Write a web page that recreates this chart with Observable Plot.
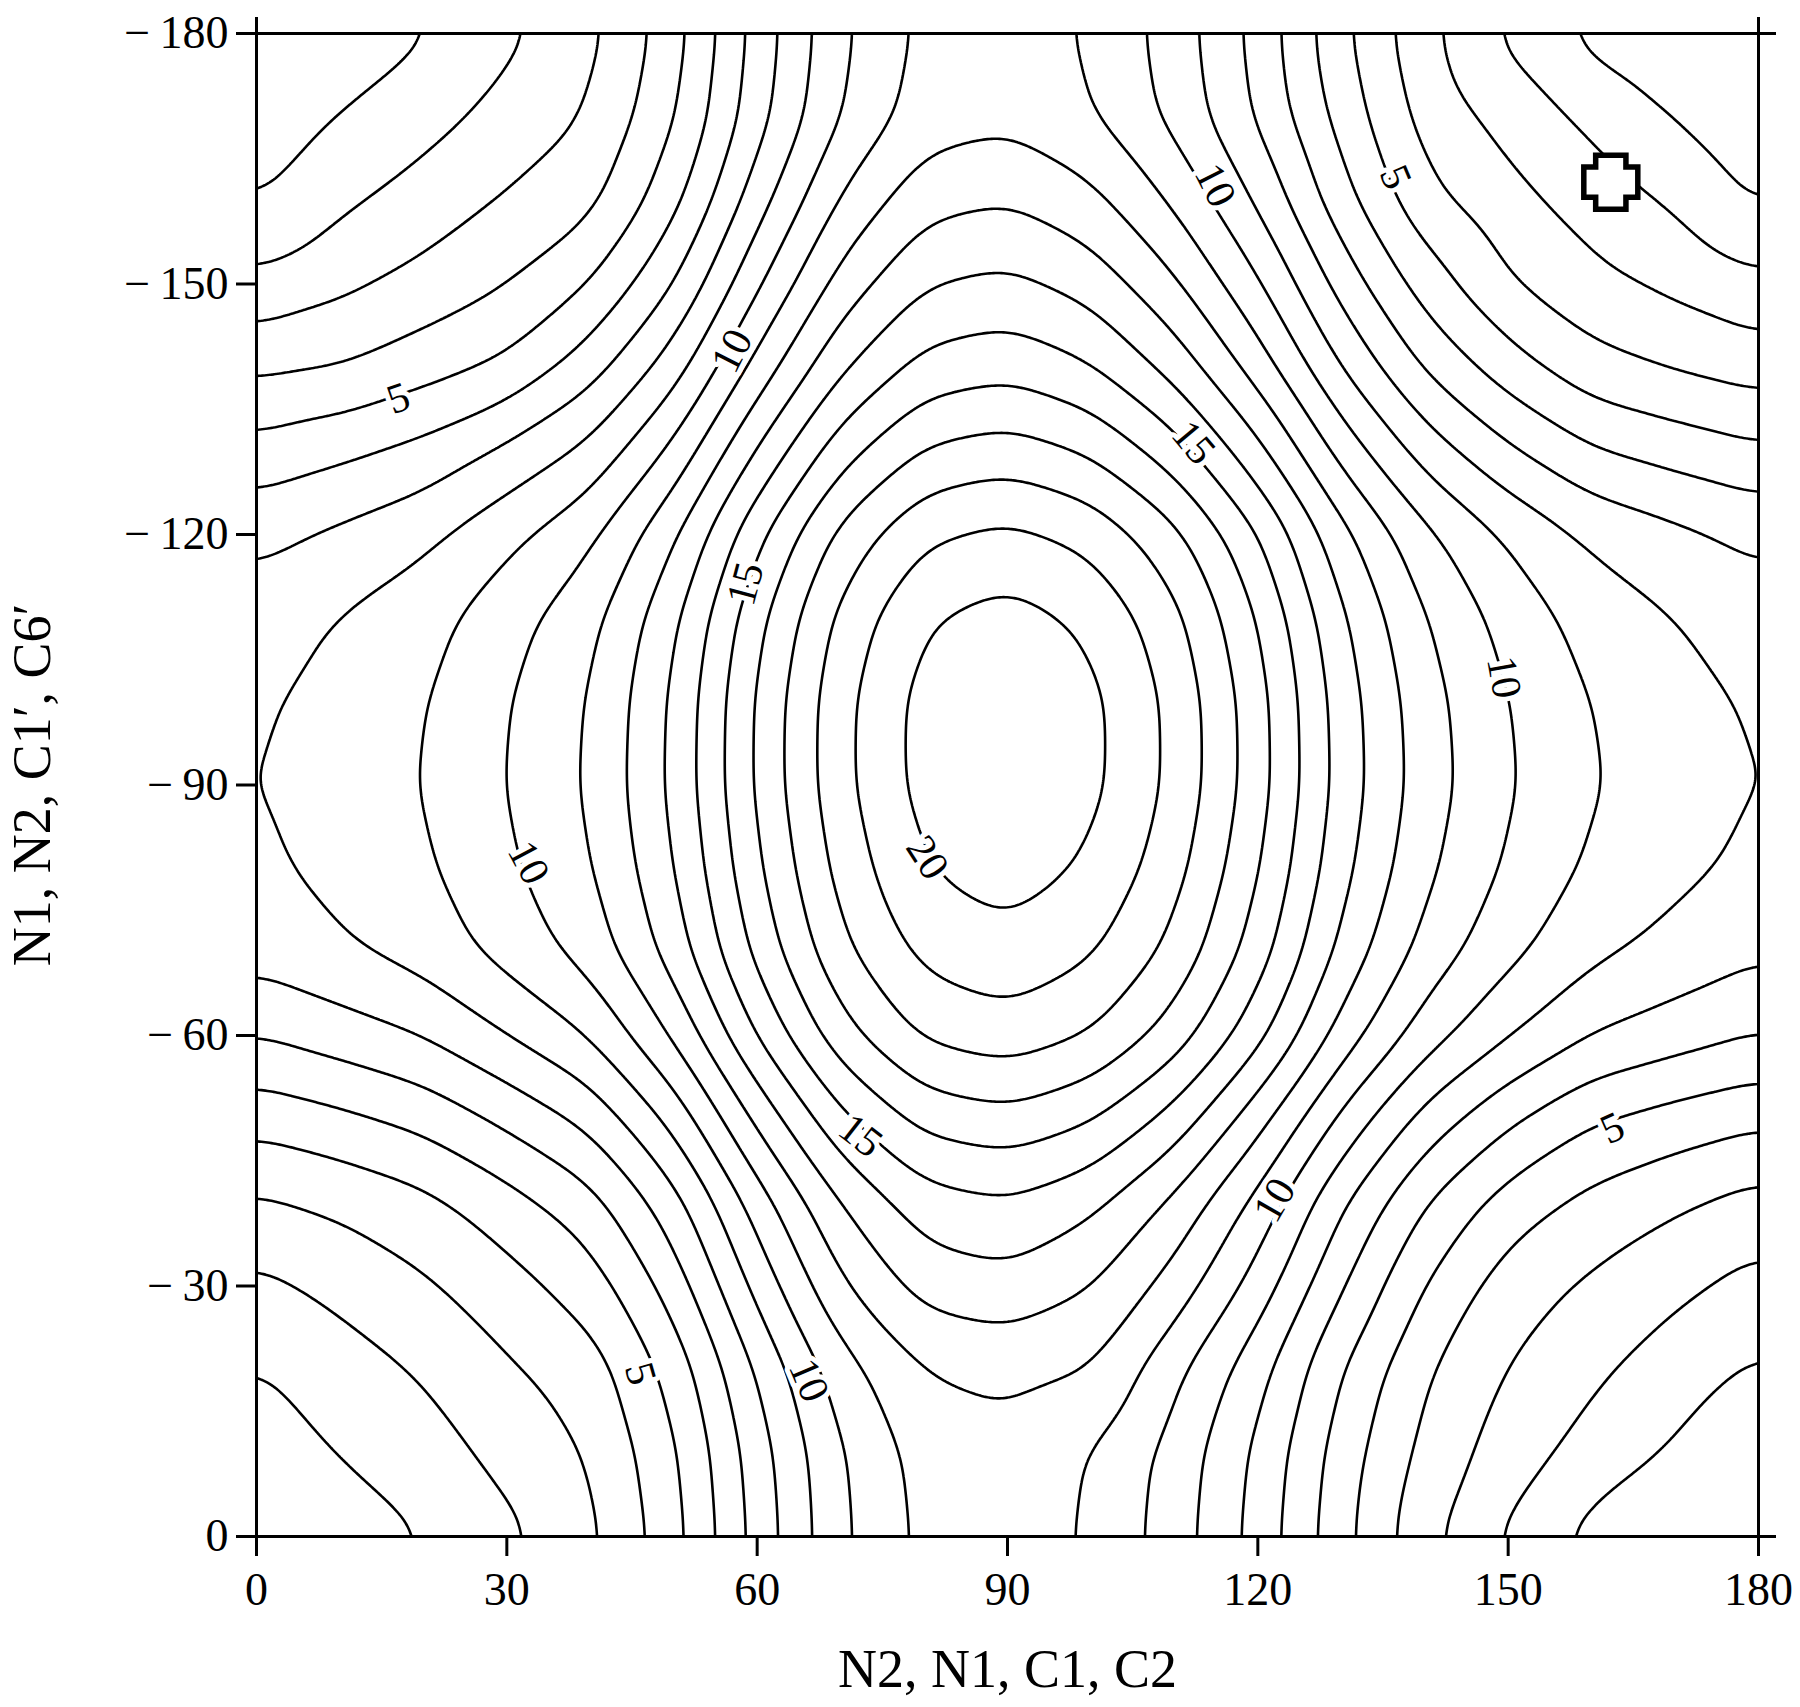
<!DOCTYPE html>
<html><head><meta charset="utf-8">
<script src="https://cdn.jsdelivr.net/npm/d3@7"></script>
<script src="https://cdn.jsdelivr.net/npm/@observablehq/plot@0.6"></script>
<style>body{margin:0;background:#fff} svg{display:block}</style>
</head><body><div id="chart"></div>
<script>
// Torsion angle grid (degrees)
const phi = [0,10,20,30,40,50,60,70,80,90,100,110,120,130,140,150,160,170,180];      // N2,N1,C1,C2
const psi = [0,-10,-20,-30,-40,-50,-60,-70,-80,-90,-100,-110,-120,-130,-140,-150,-160,-170,-180]; // N1,N2,C1',C6'
// Relative energy read from the contour map (one row per psi value)
const energy = [
  [0.25,0.50,0.97,1.76,2.75,4.59,7.37,9.83,11.29,11.54,10.89,9.49,7.63,5.32,3.28,1.80,0.62,0.10,0.00],
  [0.50,1.03,1.56,2.30,3.05,4.80,7.54,9.96,11.41,11.65,11.00,9.63,7.80,5.52,3.70,2.50,1.59,0.87,0.20],
  [0.94,1.55,2.10,2.85,3.50,5.35,8.13,10.58,12.00,12.30,12.00,10.26,8.38,6.02,4.10,2.95,2.20,1.45,0.84],
  [1.73,2.27,2.85,3.60,4.47,6.42,9.32,11.87,13.39,13.69,13.04,11.59,9.58,7.06,4.96,3.50,2.83,2.24,1.64],
  [2.84,3.21,3.72,4.60,5.63,7.59,10.50,13.04,14.57,14.89,14.25,12.81,10.71,8.12,6.01,4.55,3.70,3.15,2.62],
  [4.34,4.77,5.30,6.23,7.27,9.29,12.24,14.80,16.35,16.71,16.09,14.64,12.40,9.76,7.63,6.18,5.08,4.59,4.17],
  [6.02,6.50,7.04,8.00,9.06,11.11,14.07,16.63,18.18,18.58,17.99,16.56,14.33,11.57,9.47,8.06,6.99,6.46,5.98],
  [7.35,7.86,8.40,9.35,10.39,12.41,15.29,17.78,19.29,19.70,19.14,17.74,15.51,12.70,10.63,9.26,8.22,7.67,7.15],
  [7.80,8.28,8.83,9.82,10.88,12.93,15.86,18.38,20.00,20.45,19.88,18.40,16.11,13.29,11.21,9.84,8.82,8.24,7.75],
  [7.94,8.45,9.01,10.02,11.10,13.20,16.18,18.74,20.40,20.85,20.30,18.78,16.46,13.58,11.49,10.10,9.07,8.48,7.94],
  [7.85,8.35,8.92,9.94,11.02,13.14,16.15,18.72,20.40,20.85,20.30,18.76,16.42,13.51,11.40,10.00,8.96,8.37,7.85],
  [7.50,8.04,8.60,9.60,10.67,12.76,15.74,18.30,19.95,20.40,19.82,18.31,15.99,13.13,11.02,9.62,8.58,8.00,7.45],
  [6.70,7.20,7.75,8.72,9.78,11.83,14.77,17.31,18.86,19.27,18.70,17.30,15.06,12.30,10.22,8.84,7.80,7.26,6.75],
  [5.33,5.77,6.30,7.21,8.24,10.22,13.10,15.60,17.11,17.48,16.89,15.47,13.31,10.64,8.56,7.15,6.08,5.59,5.15],
  [3.79,4.00,4.60,5.20,6.57,8.51,11.37,13.87,15.37,15.70,15.08,13.65,11.57,8.97,6.89,5.46,4.36,3.91,3.54],
  [2.22,2.78,3.33,3.97,5.00,6.95,9.86,12.41,13.94,14.25,13.61,12.17,10.14,7.61,5.52,4.07,3.30,2.77,2.19],
  [0.92,1.80,2.43,3.10,3.71,5.66,8.57,11.13,12.66,12.95,12.29,10.85,8.86,6.39,4.29,3.32,2.55,1.86,0.88],
  [0.56,1.00,1.63,2.34,3.05,4.87,7.62,10.06,11.50,11.75,11.10,9.73,7.90,5.62,3.63,2.64,1.75,0.95,0.15],
  [0.25,0.50,0.88,1.75,2.71,4.53,7.39,9.81,11.28,11.53,10.88,9.53,7.67,5.22,3.26,1.80,0.66,0.10,0.00]
];
const levels = [1,2,3,4,5,6,7,8,9,10,11,12,13,14,15,16,17,18,19,20];
const xTicks = [0,30,60,90,120,150,180];
const yTicks = [0,-30,-60,-90,-120,-150,-180];
// contour labels
const labelText = ["5","10","15","10","20","15","10","5","10","5","10","15","10","5"];
const labelX    = [17.0,57.0,58.6,32.6,80.4,72.4,66.2,46.0,122.0,162.5,149.5,112.3,114.9,136.5];
const labelY    = [-136.3,-142.0,-114.1,-80.7,-81.3,-48.0,-18.7,-19.5,-40.3,-48.9,-102.9,-131.0,-161.8,-162.8];
const labelAngle= [-19,-63,-75,62,57,38,67,74,-60,-24,80,50,63,67];
// marked conformation
const markerX = [162.3];
const markerY = [-162.2];

const points = psi.flatMap((y, j) => phi.map((x, i) => ({x, y, v: energy[j][i]})));
const labels = labelText.map((t, i) => ({t, x: labelX[i], y: labelY[i], a: labelAngle[i]}));
const markers = markerX.map((x, i) => ({x, y: markerY[i]}));

const fatCross = {
  draw(context, size) {
    const r = Math.sqrt(size / Math.PI), a = r * 0.56;
    context.moveTo(-a, -r); context.lineTo(a, -r); context.lineTo(a, -a); context.lineTo(r, -a);
    context.lineTo(r, a); context.lineTo(a, a); context.lineTo(a, r); context.lineTo(-a, r);
    context.lineTo(-a, a); context.lineTo(-r, a); context.lineTo(-r, -a); context.lineTo(-a, -a);
    context.closePath();
  }
};
const fmtY = d => d < 0 ? "\u2212\u2009" + Math.abs(d) : String(d);
const font = "'Liberation Serif', 'Times New Roman', serif";

const chart = Plot.plot({
  width: 1800, height: 1707,
  marginLeft: 256, marginRight: 42, marginTop: 33, marginBottom: 171,
  x: {domain: [0, 180]},
  y: {domain: [0, -180]},
  style: {fontFamily: font, background: "white", color: "black"},
  marks: [
    Plot.contour(points, {
      x: "x", y: "y", value: "v",
      interpolate: "barycentric", pixelSize: 2, blur: 10,
      thresholds: levels, fill: "none", stroke: "black", strokeWidth: 2.6, clip: true
    }),
    Plot.text(labels, {x: "x", y: "y", text: "t", rotate: "a", fontSize: 42, fill: "black",
      stroke: "white", strokeWidth: 10, fontFamily: font}),
    Plot.dot(markers, {x: "x", y: "y", symbol: fatCross, r: 27, fill: "white", stroke: "black", strokeWidth: 5.5}),
    Plot.frame({stroke: "black", strokeWidth: 3}),
    Plot.axisX(xTicks, {anchor: "bottom", tickSize: 20, tickPadding: 16, fontSize: 46, strokeWidth: 3, label: null}),
    Plot.axisX([0, 180], {anchor: "top", tickSize: 17, tickFormat: () => "", strokeWidth: 3, label: null}),
    Plot.axisY(yTicks, {anchor: "left", tickSize: 20, tickPadding: 8, fontSize: 46, tickFormat: fmtY, strokeWidth: 3, label: null}),
    Plot.axisY([0, -180], {anchor: "right", tickSize: 17, tickFormat: () => "", strokeWidth: 3, label: null}),
    Plot.text(["N2, N1, C1, C2"], {text: d => d, frameAnchor: "bottom", dy: 150, fontSize: 54, fontFamily: font}),
    Plot.text(["N1, N2, C1\u2032, C6\u2032"], {text: d => d, frameAnchor: "left", dx: -224, rotate: -90,
      textAnchor: "middle", fontSize: 54, fontFamily: font})
  ]
});
document.getElementById("chart").appendChild(chart);
</script></body></html>
